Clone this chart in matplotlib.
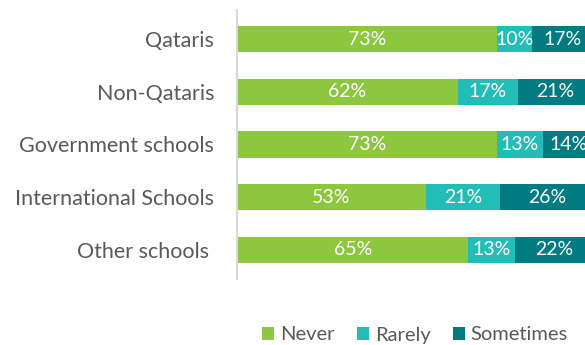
import numpy as np
import matplotlib
matplotlib.use('Agg')
from matplotlib import pyplot as plt

plt.rcParams['font.family'] = ['Lato', 'DejaVu Sans']

groups = ['Qataris', 'Non-Qataris', 'Government schools', 'International Schools', 'Other schools ']
never = [73, 62, 73, 53, 65]
rarely = [10, 17, 13, 21, 13]
sometimes = [17, 21, 14, 26, 22]
series = ['Never', 'Rarely', 'Sometimes']
colors = ['#8DC63F', '#22BDB6', '#007B82']

fig = plt.figure(figsize=(5.85, 3.45), dpi=100)
ax = fig.add_axes([237 / 585, 1 - 279 / 345, 356 / 585, 269 / 345])

y = np.arange(len(groups))
left = np.zeros(len(groups))
for name, vals, c in zip(series, [never, rarely, sometimes], colors):
    vals = np.array(vals)
    ax.barh(y, vals, left=left, height=0.5, color=c, label=name)
    for yi, l, v in zip(y, left, vals):
        ax.text(l + v / 2, yi, f'{v}%', ha='center', va='center', color='white', fontsize=14)
    left = left + vals

ax.set_xlim(0, 100)
ax.set_ylim(len(groups) - 0.45, -0.55)
ax.set_yticks(y)
ax.set_yticklabels(groups, fontsize=15.5, color='#595959')
ax.tick_params(axis='y', length=0, pad=16.5)
ax.set_xticks([])
for s in ['top', 'right', 'bottom']:
    ax.spines[s].set_visible(False)
ax.spines['left'].set_color('#D9D9D9')
ax.spines['left'].set_linewidth(1.5)

fig.legend(loc='center', bbox_to_anchor=(415 / 585, 1 - 335 / 345), ncol=3, frameon=False,
           handlelength=0.6, handleheight=0.6, handletextpad=0.3, columnspacing=1.1,
           prop={'size': 14.5}, labelcolor='#595959')

fig.savefig('out.png', dpi=100)
